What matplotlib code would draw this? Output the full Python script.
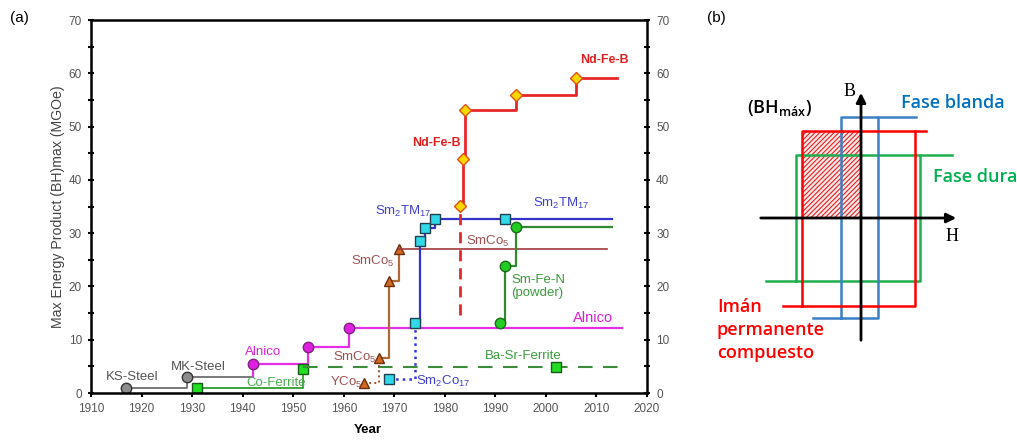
import numpy as np
import matplotlib.pyplot as plt

# ---- panel (a): record (BH)max by year ----
ks_years = [1917, 1929, 1942]
ks_bh = [1.0, 3.1, 3.1]

alnico_years = [1942, 1942, 1953, 1961, 2015]
alnico_bh = [3.1, 5.5, 8.6, 12.2, 12.2]

coferrite_years = [1931, 1952]
coferrite_bh = [0.9, 4.6]

basr_years = [1952, 2002, 2015]
basr_bh = [4.9, 4.9, 4.9]

yco5_years = [1964, 1967]
yco5_bh = [1.8, 6.6]

smco5_years = [1967, 1969, 1971, 2012]
smco5_bh = [6.6, 21.0, 27.1, 27.1]

sm2co17_years = [1969, 1974]
sm2co17_bh = [2.6, 13.1]

sm2tm17_years = [1974, 1975, 1976, 1978, 1992, 2013]
sm2tm17_bh = [13.1, 28.6, 31.0, 32.6, 32.6, 32.6]

ndfeb_years = [1983, 1983.5, 1984, 1994, 2006, 2014]
ndfeb_bh = [35.1, 44.0, 53.1, 56.0, 59.2, 59.2]
ndfeb_dash_years = [1983, 1983]
ndfeb_dash_bh = [14.6, 35.1]

smfen_years = [1991, 1992, 1994, 2013]
smfen_bh = [13.1, 23.9, 31.1, 31.1]

# ---- panel (b): square loops (H range, B range, top line end, bottom line start) ----
blanda_h = [-20, 17]
blanda_b = [-100, 101]
blanda_ext = [55, -48]
iman_h = [-59, 54]
iman_b = [-88, 87]
iman_ext = [65, -78]
dura_h = [-65, 59]
dura_b = [-63, 63]
dura_ext = [91, -95]

fig = plt.figure(figsize=(10.17, 4.41), dpi=100)
plt.rcParams['font.family'] = ['Liberation Sans', 'DejaVu Sans']

ax = fig.add_axes([0.0895, 0.1088, 0.5467, 0.8458])
lw = 1.6
ms = 7.5

ax.plot(ks_years, ks_bh, drawstyle='steps-post', color='#6e6e6e', lw=1.3,
        marker='o', ms=ms, mfc='#8c8c8c', mec='#333333', markevery=[0, 1])
ax.plot(alnico_years, alnico_bh, drawstyle='steps-post', color='#e62ee6', lw=lw,
        marker='o', ms=ms, mfc='#e020e0', mec='#802080', markevery=[1, 2, 3])
ax.plot(coferrite_years, coferrite_bh, drawstyle='steps-post', color='#2e9e2e', lw=1.3,
        marker='s', ms=6.5, mfc='#22dd22', mec='#1a5a1a')
ax.plot(basr_years, basr_bh, color='#3c8c3c', lw=1.5, ls=(0, (7, 5)),
        marker='s', ms=6.5, mfc='#22dd22', mec='#1a5a1a', markevery=[1])
ax.plot(yco5_years, yco5_bh, drawstyle='steps-post', color='#a0522d', lw=1.4, ls=':',
        marker='^', ms=ms, mfc='#d2691e', mec='#6b2f10', markevery=[0])
ax.plot(smco5_years[:3], smco5_bh[:3], drawstyle='steps-post', color='#b06a3a', lw=lw,
        marker='^', ms=ms, mfc='#d2691e', mec='#6b2f10')
ax.plot(smco5_years[2:], smco5_bh[2:], color='#a03a3a', lw=1.2)
ax.plot(sm2co17_years, sm2co17_bh, drawstyle='steps-post', color='#3030e0', lw=1.8, ls=':',
        marker='s', ms=6.5, mfc='#30d8e8', mec='#204050', markevery=[0])
ax.plot(sm2tm17_years, sm2tm17_bh, drawstyle='steps-post', color='#3333cc', lw=lw,
        marker='s', ms=6.5, mfc='#30d8e8', mec='#204050', markevery=[0, 1, 2, 3, 4])
ax.plot(ndfeb_dash_years, ndfeb_dash_bh, color='#e8262a', lw=2, ls=(0, (4, 2.5)))
ax.plot(ndfeb_years, ndfeb_bh, drawstyle='steps-post', color='#e8262a', lw=2,
        marker='D', ms=6.5, mfc='#ffd700', mec='#e05010', markevery=[0, 1, 2, 3, 4])
ax.plot(smfen_years, smfen_bh, drawstyle='steps-post', color='#2e8b2e', lw=lw,
        marker='o', ms=ms, mfc='#22cc22', mec='#1a6a1a', markevery=[0, 1, 2])

lab = dict(ha='center', va='center', fontsize=9.5)
ax.text(1918.1, 3.0, 'KS-Steel', color='#555555', **lab)
ax.text(1931.2, 4.9, 'MK-Steel', color='#555555', **lab)
ax.text(1944.0, 7.75, 'Alnico', color='#e020d0', **lab)
ax.text(2009.3, 14.1, 'Alnico', color='#e020d0', ha='center', va='center', fontsize=10.5)
ax.text(1946.6, 1.9, 'Co-Ferrite', color='#4caf50', **lab)
ax.text(1995.5, 6.9, 'Ba-Sr-Ferrite', color='#3c9c3c', **lab)
ax.text(1962.2, 6.75, r'SmCo$_\mathregular{5}$', color='#a05050', **lab)
ax.text(1965.8, 24.6, r'SmCo$_\mathregular{5}$', color='#a05050', **lab)
ax.text(1988.5, 28.5, r'SmCo$_\mathregular{5}$', color='#a05050', **lab)
ax.text(1960.6, 1.9, r'YCo$_\mathregular{5}$', color='#a05050', **lab)
ax.text(1979.6, 2.1, r'Sm$_\mathregular{2}$Co$_\mathregular{17}$', color='#4040d0', **lab)
ax.text(1971.7, 34.0, r'Sm$_\mathregular{2}$TM$_\mathregular{17}$', color='#4040d0', **lab)
ax.text(2003.0, 35.6, r'Sm$_\mathregular{2}$TM$_\mathregular{17}$', color='#4040d0', **lab)
ax.text(1978.4, 46.9, 'Nd-Fe-B', color='#e02020', fontweight='bold', ha='center', va='center', fontsize=9)
ax.text(2011.5, 62.5, 'Nd-Fe-B', color='#e02020', fontweight='bold', ha='center', va='center', fontsize=9)
ax.text(1993.1, 20.0, 'Sm-Fe-N\n(powder)', color='#3c9c3c', ha='left', va='center',
        fontsize=9.5, linespacing=1.05)

ax.set_xlim(1910, 2020)
ax.set_ylim(0, 70)
ax.set_xticks(np.arange(1910, 2021, 10))
ax.set_yticks(np.arange(0, 71, 10))
ax.set_yticks(np.arange(5, 70, 10), minor=True)
ax.tick_params(axis='y', which='both', direction='inout', length=5, width=1.5,
               right=True, labelright=True, labelsize=8.5, labelcolor='#555555', pad=4)
ax.tick_params(axis='x', direction='out', length=3, width=1.5, labelsize=8.5,
               labelcolor='#555555', pad=4)
for s in ax.spines.values():
    s.set_linewidth(1.8)
ax.set_xlabel('Year', fontweight='bold', fontsize=9.5)
ax.xaxis.set_label_coords(0.498, -0.082)
ax.set_ylabel('Max Energy Product (BH)max (MGOe)', fontsize=10.2, color='#444444', labelpad=3)

fig.text(10 / 1017, 1 - 18 / 441, '(a)', fontsize=11, va='center', ha='left')
fig.text(707 / 1017, 1 - 18 / 441, '(b)', fontsize=11, va='center', ha='left')

# ---- panel (b) ----
bx = fig.add_axes([700 / 1017, 0, 317 / 1017, 1])
bx.set_xlim(-161, 156)
bx.set_ylim(-223, 218)
bx.axis('off')


def loop(h, b, ext, color):
    bx.plot([h[0], h[1], h[1], h[0], h[0]], [b[0], b[0], b[1], b[1], b[0]], color=color, lw=1.8)
    bx.plot([h[1], ext[0]], [b[1], b[1]], color=color, lw=1.8)
    bx.plot([ext[1], h[0]], [b[0], b[0]], color=color, lw=1.8)


plt.rcParams['hatch.linewidth'] = 0.8
bx.fill_between([iman_h[0], 0], 0, iman_b[1], facecolor='#fde8e8', edgecolor='#e82020',
                hatch='///////', lw=0)
loop(dura_h, dura_b, dura_ext, '#1fae4e')
loop(blanda_h, blanda_b, blanda_ext, '#3a7fc4')
loop(iman_h, iman_b, iman_ext, '#ff0000')
bx.annotate('', xy=(98, 0), xytext=(-103, 0),
            arrowprops=dict(arrowstyle='-|>', color='black', lw=2, mutation_scale=14))
bx.annotate('', xy=(0, 128), xytext=(0, -125),
            arrowprops=dict(arrowstyle='-|>', color='black', lw=2, mutation_scale=14))
bx.text(-11, 126, 'B', family='Liberation Serif', fontsize=13, ha='center', va='center')
bx.text(91, -19, 'H', family='Liberation Serif', fontsize=13, ha='center', va='center')

sch = dict(family='Open Sans', fontsize=13, fontweight='semibold', va='center')
bx.text(-82, 110, r'(BH$_\mathregular{máx}$)', color='black', ha='center', **sch)
bx.text(92, 115, 'Fase blanda', color='#0070c0', ha='center', **sch)
bx.text(114, 41, 'Fase dura', color='#00b050', ha='center', **sch)
bx.text(-144, -112, 'Imán\npermanente\ncompuesto', color='#ff0000', ha='left',
        linespacing=1.38, **sch)

plt.savefig('out.png', dpi=100)
